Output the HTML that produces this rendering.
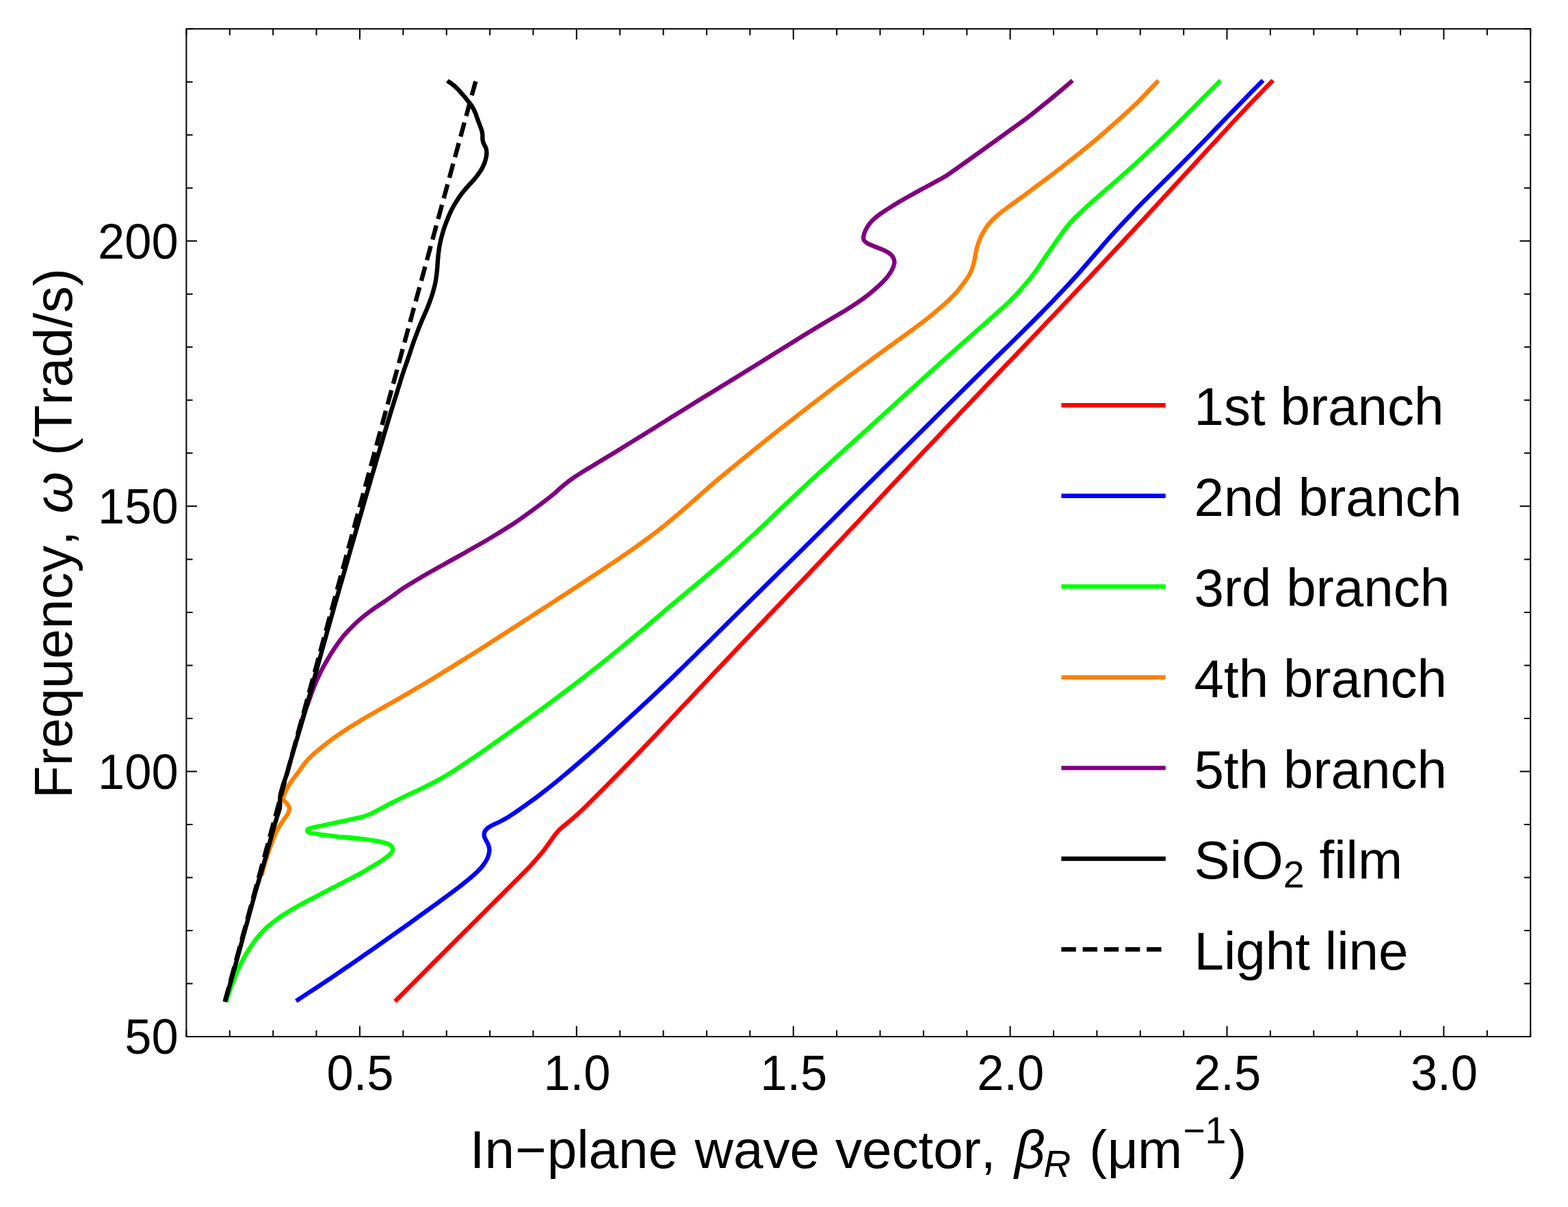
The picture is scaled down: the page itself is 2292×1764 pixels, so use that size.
<!DOCTYPE html>
<html lang="en">
<head>
<meta charset="utf-8">
<title>Dispersion relation</title>
<style>
html,body{margin:0;padding:0;background:#fff;}
body{width:2292px;height:1764px;overflow:hidden;}
svg{display:block;}
text{font-family:"Liberation Sans",Arial,Helvetica,sans-serif;fill:#000;font-kerning:none;font-variant-ligatures:none;}
.tk{font-size:70.5px;}
.lb{font-size:78.2px;}
.sb{font-size:55.5px;}
.it{font-style:italic;}
.c{fill:none;stroke-width:6.4;stroke-linecap:butt;stroke-linejoin:round;}
.f{fill:none;stroke:#000;stroke-width:2.0;stroke-linecap:butt;}
</style>
</head>
<body>
<svg xmlns="http://www.w3.org/2000/svg" width="2292" height="1764" viewBox="0 0 2292 1764">
<rect x="0" y="0" width="2292" height="1764" fill="#fff"/>
<path class="c" stroke="#ff0000" d="M577.3 1463.5C593.5 1447.3 609.7 1431.1 625.8 1414.9C641.8 1399.0 657.7 1383.0 673.7 1367.0C689.8 1350.9 706.0 1334.9 722.1 1318.8C738.3 1302.7 754.5 1286.7 770.5 1270.5C775.0 1265.8 779.3 1261.0 783.6 1256.1C787.6 1251.5 791.6 1247.0 795.3 1242.2C798.3 1238.4 800.9 1234.4 803.8 1230.4C806.2 1227.1 808.5 1223.6 811.1 1220.3C813.4 1217.5 815.8 1214.7 818.4 1212.1C820.7 1209.8 823.2 1207.8 825.7 1205.7C828.7 1203.2 831.8 1200.8 834.8 1198.3C838.6 1195.0 842.2 1191.6 845.9 1188.3C848.9 1185.5 852.0 1182.8 854.9 1179.9C866.6 1168.3 878.3 1156.7 889.9 1145.0C902.2 1132.6 914.5 1120.2 926.7 1107.6C938.8 1095.0 950.8 1082.2 962.8 1069.6C975.0 1056.7 987.2 1043.8 999.3 1030.9C1011.8 1017.7 1024.2 1004.5 1036.6 991.3C1048.0 979.2 1059.3 967.2 1070.7 955.2C1097.2 927.3 1123.8 899.6 1150.4 871.8C1160.1 861.6 1169.9 851.5 1179.6 841.3C1192.0 828.3 1204.3 815.3 1216.6 802.2C1228.9 789.2 1241.2 776.2 1253.5 763.1C1265.6 750.1 1277.6 737.1 1289.7 724.2C1302.0 711.1 1314.3 698.0 1326.6 685.0C1338.7 672.1 1350.9 659.2 1363.1 646.4C1375.4 633.3 1387.8 620.4 1400.1 607.4C1414.0 592.8 1427.9 578.3 1441.7 563.8C1452.2 552.8 1462.8 541.8 1473.3 530.8C1485.5 518.0 1497.8 505.3 1510.0 492.4C1522.2 479.6 1534.4 466.8 1546.6 453.9C1558.8 441.1 1570.9 428.2 1583.1 415.3C1595.4 402.2 1607.7 389.2 1619.9 376.1C1632.2 363.0 1644.4 349.8 1656.6 336.7C1668.8 323.5 1680.9 310.4 1693.1 297.2C1705.8 283.4 1718.6 269.5 1731.3 255.7C1733.7 253.1 1736.1 250.4 1738.5 247.8C1750.6 234.6 1762.8 221.3 1774.9 208.2C1787.1 195.0 1799.3 181.8 1811.5 168.7C1820.7 159.0 1829.9 149.2 1839.2 139.6C1846.3 132.1 1853.6 124.8 1860.8 117.4"/>
<path class="c" stroke="#0000ff" d="M432.8 1463.0C451.8 1450.4 470.9 1438.0 489.7 1425.3C508.2 1412.8 526.4 1400.0 544.7 1387.4C549.9 1383.7 555.1 1380.1 560.3 1376.4C572.4 1367.8 584.6 1359.2 596.8 1350.6C608.9 1341.9 621.0 1333.2 633.0 1324.4C645.4 1315.4 657.8 1306.5 669.9 1297.3C676.2 1292.5 682.2 1287.5 688.2 1282.5C691.9 1279.3 695.7 1276.0 699.2 1272.5C701.8 1269.9 704.4 1267.2 706.5 1264.2C708.6 1261.4 710.5 1258.3 712.1 1255.1C713.3 1252.5 714.2 1249.7 714.8 1246.9C715.2 1245.1 715.4 1243.2 715.3 1241.4C715.1 1239.2 714.6 1237.0 713.9 1235.0C713.1 1232.8 711.7 1230.7 710.6 1228.5C709.8 1226.7 708.7 1224.9 708.1 1223.0C707.7 1221.6 707.5 1219.9 707.7 1218.5C708.0 1216.9 708.5 1215.2 709.4 1213.9C710.6 1212.2 712.3 1210.7 714.0 1209.4C716.2 1207.8 718.8 1206.6 721.2 1205.3C724.2 1203.8 727.4 1202.5 730.4 1201.0C733.5 1199.5 736.6 1197.9 739.6 1196.1C743.3 1193.9 746.9 1191.5 750.5 1189.1C754.9 1186.1 759.2 1183.2 763.5 1180.1C772.0 1174.1 780.5 1168.2 788.7 1161.9C799.2 1153.8 809.6 1145.5 819.8 1137.1C831.1 1127.7 842.3 1118.2 853.4 1108.5C865.6 1097.9 877.8 1087.2 889.9 1076.3C902.3 1065.2 914.6 1054.0 926.8 1042.7C939.0 1031.4 951.2 1020.1 963.3 1008.6C975.4 997.2 987.3 985.6 999.3 974.0C1011.6 962.0 1023.9 949.8 1036.2 937.7C1047.8 926.2 1059.4 914.7 1071.0 903.3C1081.6 892.8 1092.2 882.3 1102.8 871.9C1116.3 858.6 1129.7 845.5 1143.1 832.3C1155.3 820.3 1167.4 808.3 1179.6 796.3C1192.0 784.0 1204.4 771.7 1216.8 759.4C1229.0 747.2 1241.2 734.9 1253.5 722.8C1265.6 710.7 1277.8 698.8 1289.9 686.8C1302.0 674.8 1314.1 662.8 1326.3 650.8C1338.5 638.6 1350.8 626.4 1363.1 614.3C1375.3 602.1 1387.6 589.9 1399.8 577.8C1404.4 573.3 1408.9 568.8 1413.4 564.4C1427.2 550.7 1441.1 537.1 1455.0 523.5C1467.2 511.6 1479.5 499.7 1491.6 487.7C1503.9 475.6 1516.1 463.4 1528.2 451.1C1537.4 441.6 1546.4 432.1 1555.5 422.5C1561.7 415.9 1567.9 409.2 1573.9 402.5C1580.2 395.5 1586.2 388.5 1592.3 381.4C1598.4 374.4 1604.4 367.3 1610.5 360.3C1616.6 353.3 1622.7 346.2 1629.0 339.4C1637.3 330.2 1645.7 321.2 1654.3 312.4C1663.6 302.7 1673.2 293.1 1682.7 283.6C1691.8 274.4 1701.1 265.4 1710.3 256.2C1719.6 246.9 1728.9 237.6 1738.2 228.3C1747.4 218.9 1756.7 209.5 1765.8 200.0C1775.0 190.5 1784.1 181.0 1793.2 171.5C1802.4 162.0 1811.6 152.6 1820.8 143.2C1829.2 134.6 1837.7 126.1 1846.2 117.6"/>
<path class="c" stroke="#00ff00" d="M330.4 1464.3C332.6 1457.9 334.6 1451.4 336.9 1445.0C339.6 1437.6 342.6 1430.2 345.4 1422.8C346.2 1420.9 347.0 1419.0 347.8 1417.1C350.1 1412.4 352.4 1407.8 354.8 1403.2C356.3 1400.2 357.9 1397.3 359.5 1394.5C360.9 1392.1 362.3 1389.7 363.8 1387.4C367.0 1382.7 370.3 1378.0 373.7 1373.4C375.5 1370.9 377.6 1368.5 379.6 1366.1C381.8 1363.6 384.1 1361.1 386.5 1358.8C388.6 1356.6 390.8 1354.5 393.2 1352.6C398.0 1348.6 402.9 1344.8 408.0 1341.2C412.7 1337.9 417.6 1334.7 422.6 1331.7C427.4 1328.8 432.3 1326.0 437.2 1323.3C442.0 1320.6 446.9 1318.0 451.8 1315.4C456.7 1312.9 461.6 1310.4 466.5 1307.8C470.9 1305.5 475.3 1303.2 479.8 1300.9C483.2 1299.1 486.7 1297.3 490.1 1295.5C496.1 1292.4 502.1 1289.3 508.1 1286.2C514.1 1283.1 520.1 1280.1 526.1 1276.9C528.1 1275.8 530.1 1274.6 532.1 1273.4C533.6 1272.5 535.1 1271.6 536.6 1270.7C538.2 1269.8 539.7 1268.9 541.2 1268.0C542.8 1267.1 544.3 1266.2 545.8 1265.3C547.3 1264.4 548.9 1263.5 550.4 1262.5C551.9 1261.6 553.5 1260.6 555.0 1259.6C556.5 1258.6 558.0 1257.6 559.5 1256.6C561.1 1255.5 562.6 1254.5 564.1 1253.4C565.2 1252.6 566.3 1251.7 567.4 1250.9C568.4 1250.0 569.6 1249.1 570.5 1248.1C571.4 1247.2 572.2 1246.3 572.8 1245.3C573.3 1244.6 573.6 1243.8 573.8 1243.1C574.0 1242.3 574.1 1241.5 574.0 1240.8C573.9 1239.8 573.7 1238.9 573.2 1238.0C572.8 1237.3 572.1 1236.6 571.5 1236.0C570.6 1235.3 569.7 1234.6 568.7 1234.1C567.2 1233.4 565.7 1232.8 564.1 1232.3C562.6 1231.8 561.1 1231.5 559.6 1231.1C558.0 1230.7 556.5 1230.3 555.0 1230.0C551.9 1229.4 548.9 1228.8 545.8 1228.3C542.8 1227.8 539.7 1227.4 536.6 1226.9C533.6 1226.5 530.5 1226.1 527.5 1225.7C524.4 1225.4 521.4 1225.1 518.3 1224.7C514.9 1224.4 511.4 1224.0 507.9 1223.7C506.0 1223.5 501.1 1223.1 502.0 1223.2C505.0 1223.7 516.7 1225.1 519.6 1225.6C520.5 1225.7 515.7 1225.2 513.7 1225.0C510.2 1224.7 506.8 1224.3 503.3 1223.9C500.2 1223.5 497.2 1223.2 494.1 1222.8C491.1 1222.5 488.0 1222.1 485.0 1221.7C481.9 1221.3 478.9 1220.9 475.8 1220.5C472.8 1220.1 469.7 1219.7 466.6 1219.3C463.6 1218.9 460.5 1218.4 457.5 1217.9C456.0 1217.7 454.4 1217.4 453.0 1217.0C452.0 1216.7 450.9 1216.5 450.2 1216.0C449.7 1215.5 449.1 1214.6 449.1 1213.9C449.1 1213.2 449.7 1212.3 450.2 1211.8C450.9 1211.2 452.0 1210.9 453.0 1210.6C454.4 1210.1 456.0 1209.8 457.5 1209.4C460.5 1208.7 463.6 1208.1 466.6 1207.5C469.7 1206.8 472.8 1206.2 475.8 1205.6C478.9 1204.9 481.9 1204.3 485.0 1203.6C488.0 1202.9 491.1 1202.3 494.1 1201.6C497.2 1201.0 500.2 1200.3 503.3 1199.6C506.3 1198.9 509.4 1198.3 512.5 1197.6C515.5 1197.0 518.6 1196.3 521.6 1195.7C524.4 1195.0 527.3 1194.6 530.0 1193.7C535.0 1192.0 540.0 1190.3 544.7 1188.0C554.2 1183.4 563.3 1178.0 572.7 1173.1C578.6 1170.1 584.7 1167.2 590.7 1164.3C596.7 1161.4 602.8 1158.6 608.9 1155.8C615.0 1152.8 621.3 1150.0 627.4 1146.9C633.5 1143.9 639.5 1140.7 645.5 1137.4C649.8 1135.0 654.0 1132.4 658.1 1129.8C662.0 1127.4 665.8 1124.9 669.6 1122.4C679.0 1116.1 688.5 1109.9 697.9 1103.4C708.8 1095.9 719.5 1088.3 730.3 1080.6C740.8 1073.2 751.3 1065.7 761.7 1058.1C773.9 1049.3 786.1 1040.4 798.3 1031.4C810.5 1022.3 822.8 1013.2 834.9 1003.9C847.2 994.6 859.4 985.1 871.6 975.5C883.9 965.9 896.1 956.1 908.1 946.1C920.4 936.1 932.5 925.8 944.6 915.7C953.8 907.8 963.0 900.0 972.3 892.1C979.9 885.7 987.5 879.3 995.1 873.0C1002.8 866.5 1010.6 860.1 1018.3 853.7C1027.3 846.1 1036.3 838.6 1045.2 831.0C1053.4 824.1 1061.6 817.2 1069.7 810.1C1082.1 799.0 1094.4 787.8 1106.6 776.5C1118.9 765.0 1130.9 753.2 1143.2 741.6C1155.6 729.9 1168.0 718.2 1180.5 706.6C1186.5 701.0 1192.5 695.4 1198.6 689.9C1210.6 678.9 1222.6 668.0 1234.6 657.1C1246.8 646.1 1259.0 635.1 1271.2 624.1C1283.5 612.9 1295.8 601.7 1308.1 590.5C1317.5 581.9 1326.9 573.3 1336.4 564.8C1346.3 555.8 1356.2 546.8 1366.2 537.8C1377.4 527.8 1388.6 517.8 1399.9 507.8C1409.1 499.6 1418.4 491.5 1427.6 483.4C1436.7 475.4 1445.8 467.3 1454.9 459.3C1461.0 453.8 1467.3 448.5 1473.2 442.8C1479.6 436.7 1485.7 430.2 1491.6 423.7C1496.7 418.0 1501.5 412.2 1506.3 406.3C1510.1 401.5 1513.7 396.5 1517.2 391.6C1521.0 386.2 1524.6 380.6 1528.3 375.1C1531.9 369.9 1535.6 364.7 1539.2 359.5C1542.9 354.3 1546.5 349.1 1550.2 343.9C1553.3 339.6 1556.2 335.3 1559.5 331.2C1562.4 327.7 1565.4 324.3 1568.5 321.0C1572.1 317.3 1575.9 313.7 1579.7 310.2C1584.4 305.7 1589.2 301.4 1594.1 297.0C1600.7 291.1 1607.5 285.2 1614.2 279.4C1621.9 272.7 1629.7 266.0 1637.3 259.3C1646.5 251.1 1655.7 242.9 1664.8 234.5C1674.0 226.1 1683.1 217.5 1692.2 208.8C1701.6 199.9 1710.9 190.9 1720.1 181.8C1729.3 172.7 1738.4 163.4 1747.5 154.2C1753.6 148.1 1759.7 141.9 1765.8 135.8C1771.8 129.7 1777.9 123.7 1784.0 117.6"/>
<path class="c" stroke="#ff8000" d="M382.4 1279.5C383.6 1274.9 384.5 1270.3 385.9 1265.8C388.2 1258.1 390.7 1250.5 393.3 1242.9C393.8 1241.2 394.6 1239.6 395.2 1237.9C396.0 1235.8 396.5 1233.7 397.3 1231.5C398.1 1229.4 399.0 1227.2 399.8 1225.1C400.7 1222.9 401.7 1220.8 402.6 1218.7C403.6 1216.5 404.6 1214.3 405.7 1212.3C406.7 1210.3 407.9 1208.4 409.1 1206.5C410.3 1204.5 411.6 1202.6 412.9 1200.7C414.1 1198.9 415.4 1197.3 416.6 1195.5C417.8 1193.8 419.1 1192.2 420.1 1190.4C420.9 1188.9 421.7 1187.4 422.2 1185.9C422.6 1184.7 422.9 1183.3 423.0 1182.0C423.0 1181.0 422.8 1179.8 422.4 1178.9C421.8 1177.6 421.0 1176.4 420.2 1175.3C419.4 1174.3 418.3 1173.4 417.4 1172.4C416.6 1171.5 415.7 1170.8 415.1 1169.8C414.6 1169.0 414.1 1168.1 414.0 1167.3C413.8 1166.4 413.9 1165.5 414.1 1164.7C414.4 1163.4 415.0 1162.1 415.5 1160.9C416.3 1159.1 417.1 1157.4 417.9 1155.7C419.0 1153.5 420.1 1151.4 421.3 1149.3C422.6 1147.1 424.1 1145.0 425.5 1142.8C427.0 1140.7 428.5 1138.5 430.1 1136.4C431.7 1134.3 433.3 1132.1 434.9 1130.0C435.5 1129.2 436.1 1128.4 436.7 1127.6C439.2 1124.2 441.5 1120.8 444.0 1117.5C446.4 1114.4 448.8 1111.3 451.5 1108.5C454.3 1105.5 457.4 1102.8 460.5 1100.1C464.1 1097.0 467.8 1093.9 471.6 1091.0C477.6 1086.3 483.6 1081.6 489.9 1077.2C495.9 1072.8 502.1 1068.7 508.4 1064.6C514.3 1060.8 520.4 1057.1 526.5 1053.4C532.6 1049.7 538.8 1046.2 545.0 1042.6C551.0 1039.1 557.1 1035.7 563.1 1032.3C569.2 1028.8 575.3 1025.4 581.3 1022.0C587.5 1018.4 593.7 1014.8 599.8 1011.2C606.0 1007.6 612.1 1004.0 618.2 1000.4C624.3 996.7 630.4 993.1 636.5 989.4C642.6 985.7 648.7 981.9 654.7 978.2C659.8 975.1 664.8 972.0 669.8 968.8C682.2 961.1 694.5 953.4 706.8 945.6C719.0 937.8 731.1 930.0 743.2 922.2C755.4 914.4 767.7 906.5 779.9 898.5C793.4 889.8 806.9 881.0 820.4 872.3C831.4 865.1 842.4 858.0 853.3 850.8C865.5 842.8 877.7 834.9 889.7 826.7C902.1 818.4 914.4 809.9 926.6 801.4C934.5 795.8 942.3 790.2 950.0 784.4C957.5 778.8 964.9 773.0 972.2 767.2C978.4 762.2 984.6 757.0 990.7 751.9C996.8 746.7 1002.9 741.4 1008.9 736.2C1015.1 730.7 1021.2 725.2 1027.4 719.8C1033.4 714.5 1039.4 709.2 1045.5 704.0C1053.7 697.1 1061.9 690.2 1070.2 683.4C1082.5 673.3 1094.7 663.3 1107.1 653.4C1119.0 643.8 1130.9 634.4 1142.9 624.9C1155.1 615.4 1167.3 605.9 1179.5 596.4C1193.2 585.8 1207.0 575.3 1220.9 564.8C1232.7 555.9 1244.6 547.0 1256.5 538.2C1268.7 529.2 1280.9 520.3 1293.1 511.4C1305.2 502.6 1317.5 493.8 1329.7 484.9C1338.8 478.1 1348.0 471.4 1356.9 464.4C1363.0 459.6 1369.0 454.5 1374.9 449.4C1379.3 445.6 1383.7 441.8 1387.8 437.7C1391.9 433.7 1395.9 429.6 1399.7 425.3C1403.1 421.3 1406.2 417.0 1409.3 412.8C1411.8 409.4 1414.3 406.1 1416.4 402.5C1418.2 399.3 1419.8 395.9 1421.0 392.5C1422.3 389.3 1423.0 385.8 1423.8 382.4C1424.6 379.4 1425.0 376.3 1425.6 373.3C1426.3 370.2 1426.8 367.1 1427.5 364.1C1428.3 361.0 1429.1 357.9 1430.2 354.9C1431.6 351.2 1433.0 347.5 1434.8 344.0C1436.7 340.2 1438.9 336.5 1441.2 333.0C1443.2 330.1 1445.4 327.3 1447.7 324.7C1449.9 322.2 1452.4 319.7 1455.0 317.4C1458.5 314.2 1462.2 311.2 1466.0 308.2C1470.8 304.5 1475.8 301.0 1480.7 297.4C1486.8 293.0 1492.9 288.8 1498.9 284.3C1517.7 270.3 1536.4 256.3 1555.0 242.0C1564.3 234.9 1573.5 227.5 1582.6 220.1C1591.8 212.6 1601.0 205.0 1610.1 197.2C1619.2 189.3 1628.3 181.3 1637.3 173.2C1646.4 164.9 1655.6 156.7 1664.4 148.0C1674.3 138.2 1683.7 127.7 1693.3 117.6"/>
<path class="c" stroke="#800080" d="M435.1 1073.6C436.8 1067.5 438.3 1061.3 440.3 1055.3C443.3 1046.0 446.9 1036.9 450.3 1027.7C453.1 1019.8 455.8 1011.8 458.9 1004.0C461.6 997.1 464.6 990.4 467.9 983.8C471.3 976.9 475.0 970.2 478.9 963.6C482.3 957.7 486.0 951.8 489.9 946.2C493.9 940.3 498.1 934.4 502.7 928.8C507.3 923.4 512.3 918.2 517.4 913.2C522.0 908.7 527.0 904.5 532.0 900.4C536.8 896.6 541.7 892.9 546.7 889.4C551.5 885.9 556.6 882.8 561.5 879.5C565.3 876.9 569.1 874.2 572.9 871.5C578.5 867.5 584.0 863.2 589.8 859.4C599.2 853.4 608.8 847.7 618.4 842.0C627.3 836.8 636.5 831.8 645.5 826.7C653.6 822.2 661.8 817.6 669.9 813.1C679.1 807.9 688.3 802.9 697.5 797.6C706.0 792.7 714.5 787.8 722.9 782.6C733.5 776.2 744.0 769.7 754.3 762.8C763.0 757.0 771.5 750.7 780.0 744.5C786.1 740.0 792.2 735.4 798.3 730.7C802.6 727.4 806.8 724.1 811.0 720.6C814.8 717.4 818.3 713.8 822.1 710.7C826.3 707.2 830.5 703.7 834.9 700.6C840.9 696.4 847.1 692.5 853.2 688.6C859.3 684.8 865.5 681.3 871.6 677.6C880.7 672.1 889.8 666.5 899.0 661.0C908.2 655.3 917.4 649.6 926.6 643.9C935.7 638.3 944.8 632.6 953.9 627.0C963.1 621.3 972.3 615.5 981.5 609.8C990.7 604.1 999.9 598.4 1009.1 592.6C1018.2 587.0 1027.3 581.4 1036.4 575.8C1042.8 571.8 1049.3 567.9 1055.7 564.0C1064.6 558.5 1073.6 553.0 1082.5 547.5C1091.6 541.9 1100.7 536.3 1109.8 530.6C1119.0 524.9 1128.2 519.1 1137.4 513.4C1146.6 507.7 1155.8 502.0 1165.1 496.3C1171.1 492.5 1177.2 488.8 1183.3 485.1C1189.3 481.4 1195.4 477.7 1201.5 474.0C1207.6 470.3 1213.8 466.7 1219.9 463.1C1226.0 459.4 1232.2 455.8 1238.2 452.1C1244.4 448.2 1250.5 444.3 1256.5 440.1C1261.5 436.6 1266.4 433.0 1271.2 429.2C1275.6 425.6 1279.9 422.0 1284.0 418.2C1287.8 414.7 1291.6 411.0 1295.0 407.1C1297.7 404.0 1300.1 400.6 1302.3 397.1C1303.9 394.5 1305.3 391.7 1306.3 388.8C1307.0 386.8 1307.5 384.5 1307.4 382.4C1307.2 380.3 1306.6 377.9 1305.5 376.1C1304.3 374.0 1302.4 372.1 1300.5 370.6C1298.0 368.7 1295.1 367.3 1292.3 365.9C1289.0 364.3 1285.6 363.1 1282.2 361.7C1279.1 360.5 1276.0 359.4 1273.0 358.0C1270.9 357.1 1268.6 356.1 1266.7 354.8C1265.3 354.0 1263.9 352.9 1263.1 351.5C1262.4 350.5 1262.1 348.9 1262.1 347.6C1262.2 345.5 1262.7 343.3 1263.3 341.2C1264.1 338.7 1265.3 336.2 1266.6 333.8C1267.9 331.3 1269.5 328.8 1271.3 326.6C1273.4 323.9 1275.9 321.5 1278.5 319.2C1281.4 316.6 1284.5 314.2 1287.7 312.0C1291.9 309.0 1296.2 306.3 1300.5 303.6C1305.3 300.5 1310.2 297.5 1315.2 294.5C1320.0 291.7 1324.9 288.9 1329.8 286.2C1335.9 282.8 1342.0 279.5 1348.1 276.1C1354.3 272.8 1360.4 269.6 1366.5 266.2C1372.6 262.8 1379.0 259.9 1384.7 255.9C1423.5 228.9 1461.7 201.0 1500.0 173.3C1506.3 168.7 1512.3 163.6 1518.4 158.7C1524.5 153.9 1530.6 149.0 1536.7 144.0C1542.7 139.1 1548.7 134.1 1554.7 129.0C1559.1 125.3 1563.4 121.4 1567.8 117.6"/>
<path class="c" stroke="#000000" d="M653.8 118.0C656.3 119.8 659.1 121.4 661.5 123.4C664.0 125.3 666.2 127.4 668.4 129.6C670.8 132.0 673.1 134.5 675.3 137.1C677.7 139.8 679.9 142.6 682.2 145.3C684.0 147.6 685.9 149.9 687.7 152.2C689.1 154.2 690.6 156.3 691.7 158.4C693.1 160.8 694.2 163.4 695.2 166.0C696.2 168.7 697.0 171.5 698.0 174.2C699.1 177.2 700.3 180.1 701.4 183.1C702.3 185.7 703.4 188.2 704.1 190.7C704.6 192.5 705.0 194.4 705.2 196.2C705.4 198.0 705.2 199.9 705.3 201.7C705.4 203.3 705.5 204.9 705.9 206.5C706.3 208.0 707.0 209.5 707.6 211.0C708.3 212.5 709.3 213.9 709.9 215.5C710.5 217.0 711.0 218.6 711.2 220.3C711.5 221.8 711.4 223.5 711.3 225.1C711.1 227.1 710.8 229.2 710.3 231.2C709.8 233.6 709.1 235.9 708.3 238.1C707.3 240.7 706.1 243.2 704.8 245.7C703.4 248.3 701.8 250.8 700.1 253.2C698.1 256.1 696.0 258.8 693.8 261.4C691.6 264.1 689.3 266.5 687.0 269.0C684.7 271.6 682.3 274.0 680.1 276.6C678.0 279.1 675.9 281.6 674.0 284.2C672.0 286.8 670.2 289.6 668.4 292.4C666.5 295.3 664.6 298.3 663.0 301.3C661.2 304.5 659.6 307.7 658.1 310.9C656.6 314.1 655.3 317.3 654.0 320.6C652.6 324.0 651.3 327.5 650.0 331.0C648.8 334.6 647.6 338.3 646.6 342.0C645.4 346.1 644.3 350.2 643.5 354.4C642.6 358.5 641.9 362.6 641.4 366.7C640.8 370.4 640.5 374.1 640.2 377.7C639.8 381.4 639.7 385.1 639.4 388.7C639.1 392.4 638.8 396.1 638.4 399.7C637.8 404.3 637.2 408.9 636.3 413.5C635.3 418.1 634.1 422.7 632.8 427.2C631.6 431.4 630.2 435.5 628.7 439.6C627.2 443.7 625.6 447.8 623.9 451.9C622.2 456.1 620.2 460.2 618.5 464.3C616.8 468.2 615.2 472.1 613.6 476.0C612.0 480.1 610.4 484.2 608.8 488.3C607.2 492.7 605.5 497.0 604.0 501.4C602.6 505.5 601.2 509.7 599.9 513.8C598.5 517.9 597.1 522.0 595.7 526.1C594.2 530.7 592.5 535.3 590.9 539.9C589.5 544.0 588.2 548.1 586.8 552.3C585.8 555.5 584.8 558.8 583.8 562.0C582.4 566.3 581.1 570.7 579.8 575.0C577.2 583.3 574.6 591.7 572.0 600.0C569.5 608.3 567.0 616.7 564.5 625.0C562.0 633.3 559.5 641.7 557.1 650.0C554.6 658.3 552.1 666.7 549.7 675.0C547.2 683.3 544.8 691.7 542.3 700.0C539.9 708.3 537.5 716.7 535.0 725.0C532.6 733.3 530.2 741.7 527.8 750.0C525.4 758.3 523.0 766.7 520.6 775.0C518.2 783.3 515.8 791.7 513.4 800.0C511.0 808.3 508.7 816.7 506.3 825.0C503.9 833.3 501.5 841.7 499.1 850.0C496.7 858.3 494.3 866.7 492.0 875.0C489.6 883.3 487.2 891.7 484.9 900.0C482.5 908.3 480.2 916.7 477.8 925.0C475.5 933.3 473.2 941.7 470.8 950.0C468.5 958.3 466.2 966.7 463.9 975.0C461.6 983.3 459.3 991.7 457.0 1000.0C454.7 1008.3 452.4 1016.7 450.0 1025.0C447.7 1033.3 445.4 1041.7 443.0 1050.0C440.6 1058.3 438.0 1066.7 435.5 1075.0C433.1 1083.3 430.6 1091.7 428.1 1100.0C425.2 1110.0 422.5 1120.0 419.6 1130.0C419.2 1131.3 418.8 1132.7 418.3 1134.0C417.9 1135.3 417.4 1136.7 416.9 1138.0C416.4 1139.3 416.0 1140.7 415.5 1142.0C415.1 1143.3 414.6 1144.7 414.2 1146.0C413.7 1147.3 413.3 1148.7 412.9 1150.0C412.5 1151.3 412.2 1152.7 411.8 1154.0C411.4 1155.3 411.0 1156.7 410.7 1158.0C410.3 1159.3 409.9 1160.7 409.7 1162.0C409.5 1163.3 409.5 1164.7 409.4 1166.0C409.4 1167.3 409.4 1168.7 409.3 1170.0C409.3 1171.3 409.3 1172.7 409.3 1174.0C409.2 1175.3 409.3 1176.7 409.2 1178.0C409.0 1179.3 408.9 1180.7 408.7 1182.0C408.4 1183.3 407.9 1184.7 407.5 1186.0C407.1 1187.3 406.6 1188.7 406.2 1190.0C405.8 1191.3 405.3 1192.7 404.9 1194.0C404.5 1195.3 404.1 1196.7 403.7 1198.0C403.3 1199.3 402.9 1200.7 402.4 1202.0C402.0 1203.3 401.6 1204.7 401.2 1206.0C400.8 1207.3 400.5 1208.7 400.1 1210.0C399.7 1211.3 399.3 1212.7 399.0 1214.0C398.4 1216.0 397.8 1218.0 397.3 1220.0C395.5 1226.7 393.7 1233.3 391.8 1240.0C390.0 1246.7 388.2 1253.3 386.3 1260.0C384.3 1266.7 382.3 1273.3 380.3 1280.0C378.4 1286.7 376.3 1293.3 374.4 1300.0C372.5 1306.7 370.7 1313.3 368.9 1320.0C367.0 1326.7 365.2 1333.3 363.4 1340.0C361.6 1346.7 359.8 1353.3 357.9 1360.0C356.1 1366.7 354.3 1373.3 352.5 1380.0C350.6 1386.7 348.8 1393.3 347.0 1400.0C345.1 1406.7 343.3 1413.3 341.4 1420.0C339.5 1426.7 337.6 1433.3 335.8 1440.0C333.5 1448.0 331.3 1456.1 329.0 1464.1"/>
<path class="c" stroke="#000" stroke-dasharray="21.4 9.8" d="M695.3 118.8L328.6 1464.1"/>
<rect class="f" x="272.4" y="42.2" width="1964.8" height="1472.8"/>
<path class="f" d="M272.4 1515.0v-9.2M272.4 42.2v9.2M335.8 1515.0v-9.2M335.8 42.2v9.2M399.2 1515.0v-9.2M399.2 42.2v9.2M462.5 1515.0v-9.2M462.5 42.2v9.2M525.9 1515.0v-15.6M525.9 42.2v15.6M589.3 1515.0v-9.2M589.3 42.2v9.2M652.7 1515.0v-9.2M652.7 42.2v9.2M716.1 1515.0v-9.2M716.1 42.2v9.2M779.4 1515.0v-9.2M779.4 42.2v9.2M842.8 1515.0v-15.6M842.8 42.2v15.6M906.2 1515.0v-9.2M906.2 42.2v9.2M969.6 1515.0v-9.2M969.6 42.2v9.2M1033.0 1515.0v-9.2M1033.0 42.2v9.2M1096.3 1515.0v-9.2M1096.3 42.2v9.2M1159.7 1515.0v-15.6M1159.7 42.2v15.6M1223.1 1515.0v-9.2M1223.1 42.2v9.2M1286.5 1515.0v-9.2M1286.5 42.2v9.2M1349.9 1515.0v-9.2M1349.9 42.2v9.2M1413.3 1515.0v-9.2M1413.3 42.2v9.2M1476.6 1515.0v-15.6M1476.6 42.2v15.6M1540.0 1515.0v-9.2M1540.0 42.2v9.2M1603.4 1515.0v-9.2M1603.4 42.2v9.2M1666.8 1515.0v-9.2M1666.8 42.2v9.2M1730.2 1515.0v-9.2M1730.2 42.2v9.2M1793.5 1515.0v-15.6M1793.5 42.2v15.6M1856.9 1515.0v-9.2M1856.9 42.2v9.2M1920.3 1515.0v-9.2M1920.3 42.2v9.2M1983.7 1515.0v-9.2M1983.7 42.2v9.2M2047.1 1515.0v-9.2M2047.1 42.2v9.2M2110.4 1515.0v-15.6M2110.4 42.2v15.6M2173.8 1515.0v-9.2M2173.8 42.2v9.2M2237.2 1515.0v-9.2M2237.2 42.2v9.2M272.4 1515.0h15.6M2237.2 1515.0h-15.6M272.4 1437.5h9.2M2237.2 1437.5h-9.2M272.4 1360.0h9.2M2237.2 1360.0h-9.2M272.4 1282.5h9.2M2237.2 1282.5h-9.2M272.4 1204.9h9.2M2237.2 1204.9h-9.2M272.4 1127.4h15.6M2237.2 1127.4h-15.6M272.4 1049.9h9.2M2237.2 1049.9h-9.2M272.4 972.4h9.2M2237.2 972.4h-9.2M272.4 894.9h9.2M2237.2 894.9h-9.2M272.4 817.4h9.2M2237.2 817.4h-9.2M272.4 739.8h15.6M2237.2 739.8h-15.6M272.4 662.3h9.2M2237.2 662.3h-9.2M272.4 584.8h9.2M2237.2 584.8h-9.2M272.4 507.3h9.2M2237.2 507.3h-9.2M272.4 429.8h9.2M2237.2 429.8h-9.2M272.4 352.3h15.6M2237.2 352.3h-15.6M272.4 274.7h9.2M2237.2 274.7h-9.2M272.4 197.2h9.2M2237.2 197.2h-9.2M272.4 119.7h9.2M2237.2 119.7h-9.2M272.4 42.2h9.2M2237.2 42.2h-9.2"/>
<text class="tk" transform="translate(526.5 1593.1) scale(1 1.035)" text-anchor="middle">0.5</text>
<text class="tk" transform="translate(843.4 1593.1) scale(1 1.035)" text-anchor="middle">1.0</text>
<text class="tk" transform="translate(1160.3 1593.1) scale(1 1.035)" text-anchor="middle">1.5</text>
<text class="tk" transform="translate(1477.2 1593.1) scale(1 1.035)" text-anchor="middle">2.0</text>
<text class="tk" transform="translate(1794.1 1593.1) scale(1 1.035)" text-anchor="middle">2.5</text>
<text class="tk" transform="translate(2111.0 1593.1) scale(1 1.035)" text-anchor="middle">3.0</text>
<text class="tk" transform="translate(260.6 1540.4) scale(1 1.035)" text-anchor="end">50</text>
<text class="tk" transform="translate(260.6 1152.8) scale(1 1.035)" text-anchor="end">100</text>
<text class="tk" transform="translate(260.6 765.2) scale(1 1.035)" text-anchor="end">150</text>
<text class="tk" transform="translate(260.6 377.7) scale(1 1.035)" text-anchor="end">200</text>
<text class="lb" xml:space="default"><tspan x="686.7" y="1706.9">In</tspan><tspan x="753.0" y="1706.9">−</tspan><tspan x="799.7" y="1706.9">plane</tspan> <tspan x="1015.5" y="1706.9">wave</tspan> <tspan x="1220.9" y="1706.9">vector,</tspan> <tspan class="it" x="1482.9" y="1706.9">β</tspan><tspan class="it sb" x="1525.2" y="1719.7">R</tspan> <tspan x="1592.2" y="1706.9">(</tspan><tspan x="1618.8" y="1706.9">μ</tspan><tspan x="1662.9" y="1706.9">m</tspan><tspan class="sb" x="1729.3" y="1670.9">−</tspan><tspan class="sb" x="1761.4" y="1670.9">1</tspan><tspan x="1796.2" y="1706.9">)</tspan></text>
<text class="lb" transform="translate(104.9 1166.9) rotate(-90)"><tspan x="0.0" y="0">Frequency,</tspan> <tspan class="it" x="416.3" y="0">ω</tspan> <tspan x="501.1" y="0">(Trad/s)</tspan></text>
<path class="c" stroke="#ff0000" d="M1551.4 592.2H1703.8"/>
<text class="lb" x="1745.5" y="621.3">1st branch</text>
<path class="c" stroke="#0000ff" d="M1551.4 724.8H1703.8"/>
<text class="lb" x="1745.5" y="753.9">2nd branch</text>
<path class="c" stroke="#00ff00" d="M1551.4 857.3H1703.8"/>
<text class="lb" x="1745.5" y="886.4">3rd branch</text>
<path class="c" stroke="#ff8000" d="M1551.4 989.9H1703.8"/>
<text class="lb" x="1745.5" y="1019.0">4th branch</text>
<path class="c" stroke="#800080" d="M1551.4 1122.4H1703.8"/>
<text class="lb" x="1745.5" y="1151.5">5th branch</text>
<path class="c" stroke="#000" d="M1551.4 1255.0H1703.8"/>
<text class="lb" x="1745.5" y="1284.0">SiO<tspan class="sb" dy="12.8">2</tspan><tspan dy="-12.8"> film</tspan></text>
<path class="c" stroke="#000" stroke-dasharray="21.4 9.8" d="M1551.4 1387.5H1703.8"/>
<text class="lb" x="1745.5" y="1416.6">Light line</text>
</svg>
</body>
</html>
